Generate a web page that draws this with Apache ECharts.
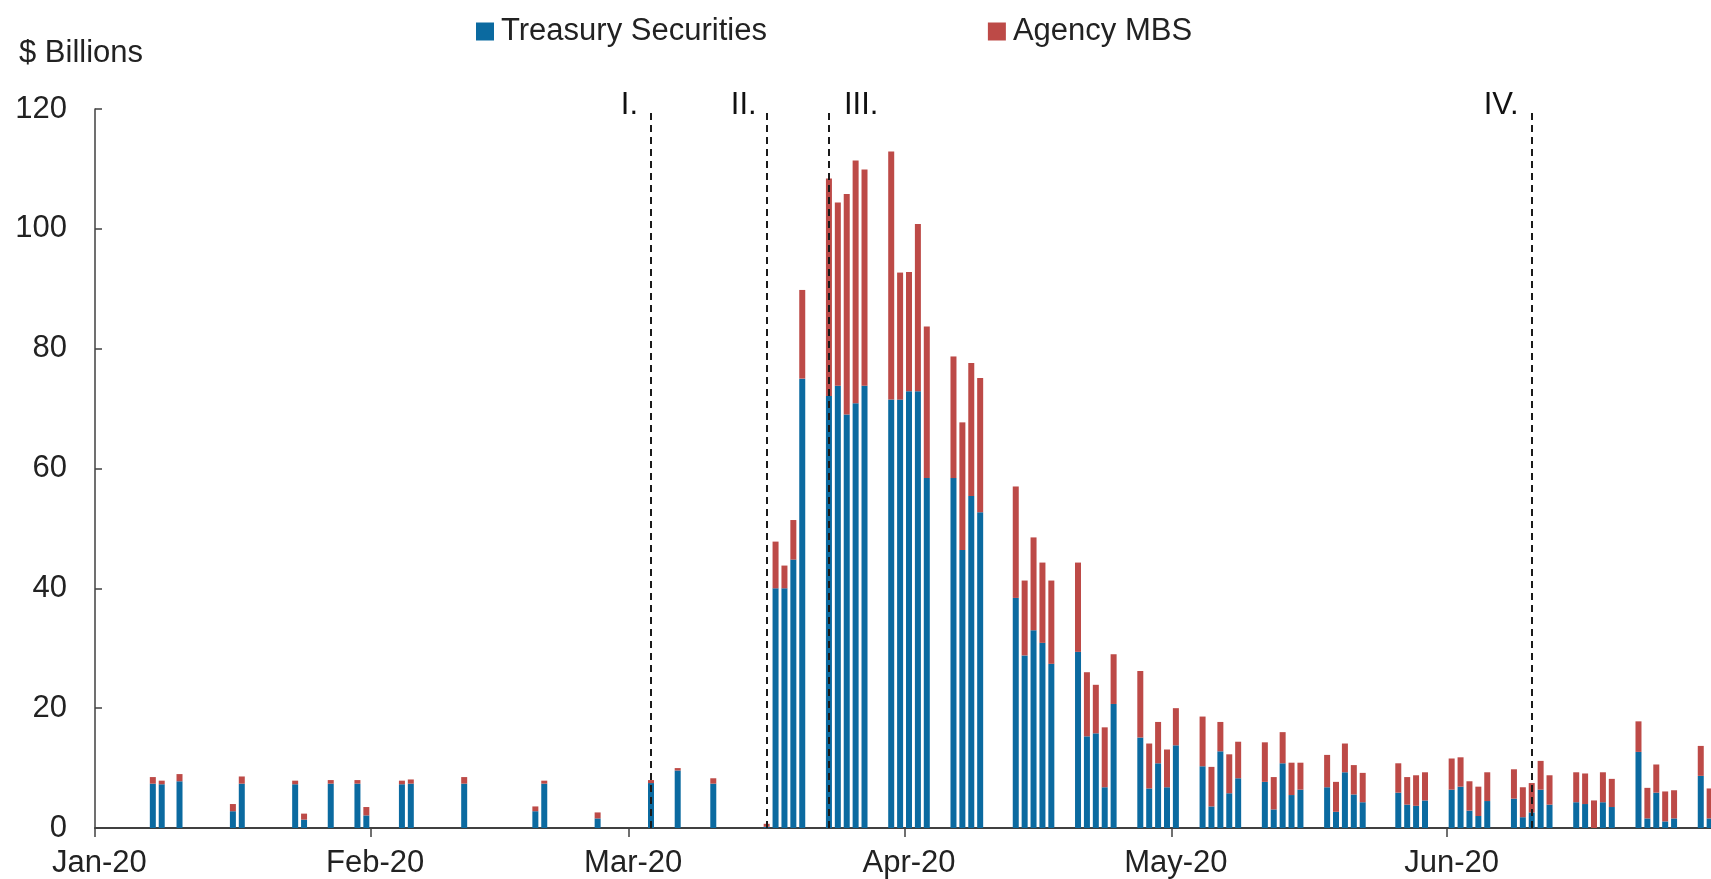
<!DOCTYPE html>
<html>
<head>
<meta charset="utf-8">
<title>Fed purchases</title>
<script src="https://cdn.jsdelivr.net/npm/echarts@6/dist/echarts.min.js"></script>
<style>
  html, body { margin: 0; padding: 0; background: #fff; }
  #chart { width: 1711px; height: 879px; }
</style>
</head>
<body>
<div id="chart"></div>
<script>
// purchase days and daily amounts ($ billions)
const purchaseDays = [
  '2020-01-07', '2020-01-08', '2020-01-10', '2020-01-16', '2020-01-17', '2020-01-23', '2020-01-24',
  '2020-01-27', '2020-01-30', '2020-01-31', '2020-02-04', '2020-02-05', '2020-02-11', '2020-02-19',
  '2020-02-20', '2020-02-26', '2020-03-03', '2020-03-06', '2020-03-10', '2020-03-16', '2020-03-17',
  '2020-03-18', '2020-03-19', '2020-03-20', '2020-03-23', '2020-03-24', '2020-03-25', '2020-03-26',
  '2020-03-27', '2020-03-30', '2020-03-31', '2020-04-01', '2020-04-02', '2020-04-03', '2020-04-06',
  '2020-04-07', '2020-04-08', '2020-04-09', '2020-04-13', '2020-04-14', '2020-04-15', '2020-04-16',
  '2020-04-17', '2020-04-20', '2020-04-21', '2020-04-22', '2020-04-23', '2020-04-24', '2020-04-27',
  '2020-04-28', '2020-04-29', '2020-04-30', '2020-05-01', '2020-05-04', '2020-05-05', '2020-05-06',
  '2020-05-07', '2020-05-08', '2020-05-11', '2020-05-12', '2020-05-13', '2020-05-14', '2020-05-15',
  '2020-05-18', '2020-05-19', '2020-05-20', '2020-05-21', '2020-05-22', '2020-05-26', '2020-05-27',
  '2020-05-28', '2020-05-29', '2020-06-01', '2020-06-02', '2020-06-03', '2020-06-04', '2020-06-05',
  '2020-06-08', '2020-06-09', '2020-06-10', '2020-06-11', '2020-06-12', '2020-06-15', '2020-06-16',
  '2020-06-17', '2020-06-18', '2020-06-19', '2020-06-22', '2020-06-23', '2020-06-24', '2020-06-25',
  '2020-06-26', '2020-06-29', '2020-06-30'
]
const treasury = [
  7.4, 7.3, 7.8, 2.8, 7.4, 7.3, 1.4,
  7.4, 7.4, 2.1, 7.3, 7.4, 7.4, 2.8,
  7.4, 1.6, 7.5, 9.6, 7.4, 0.2, 40.0,
  40.0, 44.8, 75.0, 72.1, 73.8, 69.0, 70.9,
  73.8, 71.5, 71.5, 72.9, 72.9, 58.4, 58.4,
  46.4, 55.4, 52.7, 38.4, 28.8, 33.0, 30.9,
  27.4, 29.4, 15.3, 15.8, 6.8, 20.7, 15.1,
  6.6, 10.8, 6.8, 13.8, 10.3, 3.6, 12.8,
  5.8, 8.3, 7.7, 3.1, 10.8, 5.5, 6.4,
  6.8, 2.7, 9.3, 5.6, 4.3, 5.9, 3.9,
  3.7, 4.6, 6.4, 6.9, 2.9, 2.0, 4.5,
  4.9, 1.8, 2.6, 6.4, 3.9, 4.3, 4.0,
  0, 4.3, 3.5, 12.7, 1.6, 5.9, 1.1,
  1.6, 8.7, 1.6
]
const agencyMbs = [
  1.1, 0.6, 1.2, 1.2, 1.2, 0.6, 1.0,
  0.6, 0.6, 1.4, 0.6, 0.7, 1.1, 0.8,
  0.5, 1.0, 0.5, 0.4, 0.9, 0.5, 7.8,
  3.8, 6.6, 14.8, 36.3, 30.6, 36.8, 40.5,
  36.1, 41.4, 21.2, 19.9, 27.9, 25.3, 20.3,
  21.3, 22.2, 22.4, 18.6, 12.5, 15.5, 13.4,
  13.9, 14.9, 10.7, 8.1, 10.0, 8.3, 11.1,
  7.5, 6.9, 6.3, 6.2, 8.3, 6.6, 4.9,
  6.5, 6.1, 6.6, 5.4, 5.2, 5.4, 4.5,
  5.4, 5.0, 4.8, 4.9, 4.9, 4.9, 4.6,
  5.1, 4.7, 5.2, 4.9, 4.9, 4.9, 4.8,
  4.9, 5.0, 4.9, 4.8, 4.9, 5.0, 5.1,
  4.6, 5.0, 4.7, 5.1, 5.1, 4.7, 5.0,
  4.7, 5.0, 5.0
]

// dashed event lines
const eventDays = ['2020-03-03', '2020-03-16', '2020-03-23', '2020-06-10']
const eventLabels = ['I.', 'II.', 'III.', 'IV.']
const eventSide = ['left', 'left', 'right', 'left']
const eventGap = [13, 10, 15, 13]

const monthNames = ['Jan', 'Feb', 'Mar', 'Apr', 'May', 'Jun', 'Jul']
const textColor = '#222'
const font = 'Liberation Sans, Arial, sans-serif'

// every calendar day on the axis, Jan 1 - Jul 1
const days = []
for (let d = new Date(Date.UTC(2020, 0, 1)); d <= new Date(Date.UTC(2020, 6, 1)); d.setUTCDate(d.getUTCDate() + 1)) {
  days.push(d.toISOString().slice(0, 10))
}

const toAxis = (values) => days.map(day => {
  const i = purchaseDays.indexOf(day)
  return i < 0 ? null : values[i]
})

const isMonthStart = (index, value) => value.slice(8) === '01'
// the July label falls off the right edge
const showMonthLabel = (index, value) => isMonthStart(index, value) && value.slice(5, 7) !== '07'

const chart = echarts.init(document.getElementById('chart'))

const option = {
  animation: false,
  backgroundColor: '#fff',
  textStyle: { fontFamily: font, color: textColor },
  title: {
    text: '$ Billions',
    left: 14,
    top: 33,
    textStyle: { fontFamily: font, fontSize: 31, fontWeight: 'normal', color: textColor }
  },
  legend: {
    data: ['Treasury Securities', 'Agency MBS'],
    left: 471,
    top: 11,
    icon: 'rect',
    itemWidth: 18,
    itemHeight: 18,
    itemGap: 221,
    textStyle: { fontFamily: font, fontSize: 31, color: textColor, padding: [0, 0, 0, 2] }
  },
  grid: {
    left: 95,
    top: 109,
    width: 1628,
    height: 719,
    containLabel: false,
    outerBoundsMode: 'none'
  },
  xAxis: {
    type: 'category',
    data: days,
    boundaryGap: true,
    axisLine: { lineStyle: { color: '#404040', width: 2 } },
    axisTick: {
      show: true,
      interval: isMonthStart,
      alignWithLabel: false,
      length: 9,
      lineStyle: { color: '#404040', width: 1.5 }
    },
    axisLabel: {
      interval: showMonthLabel,
      margin: 20,
      fontSize: 31,
      color: textColor,
      fontFamily: font,
      formatter: (value) => monthNames[+value.slice(5, 7) - 1] + '-' + value.slice(2, 4)
    },
    splitLine: { show: false }
  },
  yAxis: {
    type: 'value',
    min: 0,
    max: 120,
    interval: 20,
    axisLine: { show: true, lineStyle: { color: '#404040', width: 1.5 } },
    axisTick: { show: true, inside: true, length: 7, lineStyle: { color: '#404040', width: 1.5 } },
    axisLabel: { margin: 28, fontSize: 31, color: textColor, fontFamily: font },
    splitLine: { show: false }
  },
  series: [
    {
      name: 'Treasury Securities',
      type: 'bar',
      stack: 'total',
      barWidth: 6,
      data: toAxis(treasury),
      itemStyle: { color: '#0b6aa0' }
    },
    {
      name: 'Agency MBS',
      type: 'bar',
      stack: 'total',
      barWidth: 6,
      data: toAxis(agencyMbs),
      itemStyle: { color: '#bd4a47' },
      markLine: {
        silent: true,
        symbol: ['none', 'none'],
        label: { show: false },
        lineStyle: { color: '#1a1a1a', type: [7, 5], width: 2 },
        data: eventDays.map(day => ({ xAxis: day }))
      }
    },
    {
      name: 'events',
      type: 'scatter',
      symbolSize: 0,
      silent: true,
      z: 5,
      itemStyle: { opacity: 1 },
      data: eventDays.map((day, i) => ({
        value: [day, 120],
        label: {
          show: true,
          position: eventSide[i],
          distance: eventGap[i],
          offset: [0, -4],
          formatter: eventLabels[i],
          fontSize: 31,
          color: '#111',
          opacity: 1,
          fontFamily: font
        }
      }))
    }
  ]
}

chart.setOption(option)
</script>
</body>
</html>
